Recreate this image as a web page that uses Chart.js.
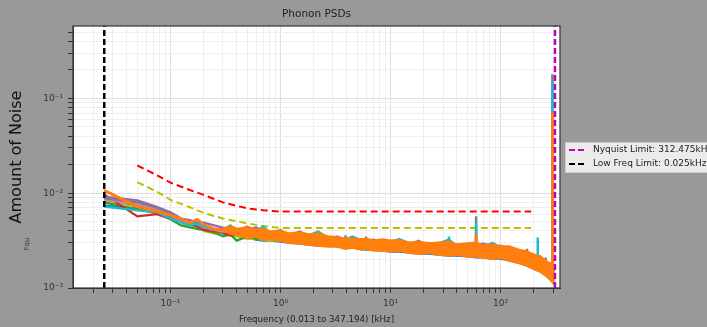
<!DOCTYPE html>
<html><head><meta charset="utf-8">
<script src="https://cdn.jsdelivr.net/npm/chart.js@4.4.1/dist/chart.umd.min.js"></script>
<style>html,body{margin:0;padding:0;background:#999999;}canvas{display:block;}</style>
</head><body>
<canvas id="c" width="707" height="327"></canvas>
<script>
// ---------- data ----------
const chartTitle = 'Phonon PSDs';
const xTitle = 'Frequency (0.013 to 347.194) [kHz]';
const yTitle = 'Amount of Noise';
const yUnit = 'Fqu';
const xMin = 0.013, xMax = 347.194;
const yMin = 0.001, yMax = 0.58;
const xTickValues = [0.1, 1, 10, 100];
const xTickLabels = ['10\u207B\u00B9', '10\u2070', '10\u00B9', '10\u00B2'];
const yTickValues = [0.001, 0.01, 0.1];
const yTickLabels = ['10\u207B\u00B3', '10\u207B\u00B2', '10\u207B\u00B9'];

const nyquistKHz = 312.475;
const lowFreqKHz = 0.025;
const legendLabels = ['Nyquist Limit: 312.475kHz', 'Low Freq Limit: 0.025kHz'];

const freqs = [0.025,0.05,0.075,0.1,0.125,0.15,0.175,0.2,0.25,0.3,0.35,0.4,0.5,0.6,0.7,0.8,1,1.2,1.5,1.8,2.2,2.7,3.3,3.9,4.5,5.5,6,7,8.5,10,12,15,18,22,27,34,40,50,60,70,85,100,120,145,175,200,230,260,285,300,310];

const orangeHi = [.0107,.0072,.00645,.00585,.0054,.0049,.0053,.0047,.0042,.0042, .00445,.0042,.00435,.0041,.0042,.00394,.0040,.00375,.00385,.00366, .00375,.0035,.0034,.0033,.0033,.00324,.0033,.00316,.00324,.00316, .00316,.0030,.00308,.00294,.0030,.00308,.00287,.00294,.0030,.0028, .00287,.00274,.00274,.00254,.00242,.00225,.00215,.0019,.00181,.00168,.0016];
const orangeLo = [.0107,.0072,.00645,.00585,.0054,.0049,.0053,.0047,.0042,.0041, .00375,.00366,.0034,.0035,.00324,.0033,.00316,.0030,.00294,.00287, .0028,.00274,.00274,.0026,.00267,.00254,.0026,.00248,.00248,.00242, .00248,.00236,.0023,.00236,.00225,.0022,.00225,.00215,.00215,.0021, .00204,.0021,.00195,.00185,.00172,.0016,.00149,.00135,.00123,.00114,.00109];
const cyan = [.0072,.0066,.0063,.0054,.0049,.00457,.0048,.00445,.0042,.0041, .00457,.0041,.0042,.0040,.00445,.00385,.00394,.00366,.00375,.00358, .00394,.0034,.0033,.00324,.0035,.00316,.00324,.00308,.00316,.00308, .0033,.00294,.0030,.00287,.00294,.00324,.0028,.00287,.00294,.00274, .0030,.00267,.00267,.00248,.00236,.0022,.0021,.00185,.00177,.00164,.00156];
const gray = [.0088,.0080,.00705,.0060,.0053,.0049,.0048,.00445,.0042,.0042, .0042,.0040,.00445,.00394,.0040,.00375,.0041,.00358,.00366,.0035, .00358,.0033,.0035,.00316,.00316,.00308,.00316,.00324,.00308,.0030, .0030,.00287,.00294,.0030,.00287,.00294,.00274,.0028,.00287,.00267, .00274,.0028,.0026,.00242,.0023,.00215,.00204,.00181,.00172,.0016,.00153];
const purple = [.0092,.0084,.0072,.0063,.0054,.0052,.0049,.0049,.00457,.00435, .0042,.0040,.0041,.00435,.0040,.00375,.00385,.00358,.00394,.0035, .00358,.0033,.00324,.00316,.00316,.0033,.00316,.0030,.00308,.0030, .0030,.00287,.00316,.0028,.00287,.00294,.00274,.0028,.00287,.00294, .00274,.0026,.0026,.00242,.0023,.00215,.00204,.00181,.00172,.0016,.00153];
const pink = [.0086,.0076,.00675,.00585,.00505,.0048,.0047,.00435,.0041,.00394, .00385,.00385,.00385,.00375,.00375,.00366,.00358,.00358,.0035,.0034, .0034,.0033,.0033,.00324,.00316,.00316,.00316,.00308,.0030,.00294, .00294,.00287,.00287,.0028,.0028,.00274,.00274,.00267,.00267,.00267, .0026,.0026,.00254,.00242,.0023,.00215,.002,.00181,.00164,.00153,.00142];
const brown = [.0090,.0074,.0066,.00555,.00505,.0047,.00457,.00445,.0041,.00394, .00385,.00375,.00366,.00366,.00358,.00358,.0035,.0034,.0034,.0033, .0033,.00324,.00316,.00316,.00308,.00308,.0030,.00294,.00294,.00287, .00287,.0028,.0028,.00274,.00274,.00267,.00267,.0026,.0026,.00254, .00254,.00248,.00242,.0023,.0022,.00204,.0019,.00172,.00156,.00145,.00135];
const red = [.0097,.0057,.0060,.0054,.0052,.0047,.00445,.0041,.0040,.00385, .00358,.00375,.00366,.00375,.00358,.0035,.0035,.0034,.0033,.0033, .00324,.00316,.00316,.00308,.00308,.0030,.0030,.00294,.00287,.00287, .0028,.00274,.00274,.00267,.00267,.0026,.0026,.00254,.00254,.00248, .00248,.00242,.00236,.00225,.00215,.002,.00185,.00168,.00153,.00142,.00132];
const green = [.0080,.00675,.00615,.0053,.00457,.00435,.0042,.0041,.00385,.0035, .00366,.00316,.0035,.0033,.0034,.0033,.00324,.00316,.00308,.00308, .0030,.0030,.00294,.00287,.00287,.0028,.00274,.00274,.00267,.00267, .0026,.00254,.00254,.00248,.00248,.00242,.00242,.00236,.00236,.0023, .0023,.00225,.0022,.0021,.002,.00185,.00172,.00156,.00142,.00132,.00123];
const olive = [.0084,.0072,.0066,.0057,.0049,.00445,.0047,.0040,.00375,.00385, .00366,.0035,.0033,.0033,.00324,.00316,.00316,.00308,.0030,.00294, .00294,.00287,.0028,.0028,.00274,.00267,.00267,.0026,.00254,.00254, .00248,.00242,.00242,.00236,.00236,.0023,.0023,.00225,.00225,.0022, .0022,.00215,.0021,.002,.0019,.00177,.00164,.00149,.00135,.00126,.00117];
const blue = [.0074,.0069,.0063,.0057,.00505,.0047,.00445,.0042,.0040,.00375, .00375,.00358,.0034,.00324,.00316,.00316,.00308,.0030,.00294,.00287, .0028,.0028,.00274,.00267,.00267,.0026,.00254,.00254,.00248,.00242, .00242,.00236,.0023,.0023,.00225,.0022,.0022,.00215,.0021,.0021, .00204,.00204,.00195,.00185,.00172,.0016,.00149,.00135,.00123,.00114,.00109];

// narrow spectral lines: frequency, peak, level of the band underneath
const grayLineF = [3.9, 4.5, 6.0, 60, 174, 257, 296];
const grayLineTop = [.0036, .0035, .0035, .0057, .0026, .0021, .18];
const grayLineBase = [.0030, .0030, .0029, .0025, .0021, .0017, .0013];
const cyanLineF = [34, 60, 218, 297];
const cyanLineTop = [.0035, .0049, .0034, .15];
const cyanLineBase = [.0025, .0025, .0019, .0013];
const orangeLineF = [60, 298];
const orangeLineTop = [.0037, .071];
const orangeLineBase = [.0025, .0012];

// threshold curves
const thrFreqs = [0.05, 0.075, 0.1, 0.15, 0.2, 0.3, 0.5, 0.7, 1, 190];
const thrRed = [.0196, .0155, .0129, .0108, .0096, .0080, .0069, .0066, .0064, .0064];
const thrYellow = [.01305, .0104, .0085, .0071, .0062, .0054, .0048, .0045, .0043, .0043];

// ---------- build ----------
const pts = (xs, ys) => xs.map((x, i) => ({x, y: ys[i]}));
const lines = (fs, tops, bases) => fs.flatMap((f, i) => [{x: f, y: bases[i]}, {x: f, y: tops[i]}, {x: f, y: null}]);
const series = (data, color, w) => ({data, borderColor: color, backgroundColor: color, borderWidth: w || 2.2, pointRadius: 0, tension: 0, fill: false, spanGaps: false});

const C = {blue:'#1f77b4', orange:'#ff7f0e', green:'#2ca02c', red:'#d62728', purple:'#9467bd', brown:'#8c564b', pink:'#e377c2', gray:'#7f7f7f', olive:'#bcbd22', cyan:'#17becf'};

const datasets = [
  Object.assign(series(pts([nyquistKHz, nyquistKHz], [yMin, yMax]), '#bf00bf', 2.5), {borderDash: [6, 3]}),
  Object.assign(series(pts([lowFreqKHz, lowFreqKHz], [yMin, yMax]), '#000000', 2.5), {borderDash: [6, 3]}),
  series(lines(orangeLineF, orangeLineTop, orangeLineBase), C.orange, 3),
  series(pts(freqs, orangeHi), C.orange, 2.5),
  Object.assign(series(pts(freqs, orangeLo), C.orange, 2.5), {fill: '-1', backgroundColor: C.orange}),
  series(lines(cyanLineF, cyanLineTop, cyanLineBase), C.cyan, 2.5),
  series(lines(grayLineF, grayLineTop, grayLineBase), C.gray, 2.5),
  series(pts(freqs, cyan), C.cyan),
  series(pts(freqs, gray), C.gray),
  series(pts(freqs, purple), C.purple),
  series(pts(freqs, pink), C.pink),
  series(pts(freqs, brown), C.brown),
  series(pts(freqs, red), C.red),
  series(pts(freqs, green), C.green),
  series(pts(freqs, olive), C.olive),
  series(pts(freqs, blue), C.blue),
  Object.assign(series(pts(thrFreqs, thrRed), '#ff0000', 2), {borderDash: [7, 4]}),
  Object.assign(series(pts(thrFreqs, thrYellow), '#bfbf00', 2), {borderDash: [7, 4]})
];

function isDecade(v) { const l = Math.log10(v); return Math.abs(l - Math.round(l)) < 1e-6; }
function logTicks(min, max) {
  const t = [];
  for (let e = -4; e <= 3; e++) for (let k = 1; k <= 9; k++) {
    const v = +(k * Math.pow(10, e)).toPrecision(6);
    if (v > min * 1.0001 && v < max * 0.9999) t.push({value: v});
  }
  return t;
}
function labelFor(values, labels) {
  return v => { const i = values.findIndex(t => Math.abs(t - v) / t < 1e-6); return i >= 0 ? labels[i] : ''; };
}
const gridColor = ctx => (ctx.tick && isDecade(ctx.tick.value)) ? '#dedede' : '#efefef';

const FONT = '"DejaVu Sans", sans-serif';
Chart.defaults.font.family = FONT;

const decor = {
  id: 'decor',
  beforeDraw(chart) {
    const {ctx, chartArea: a} = chart;
    ctx.save();
    ctx.fillStyle = '#ffffff';
    ctx.fillRect(a.left, a.top, a.right - a.left, a.bottom - a.top);
    ctx.restore();
  },
  afterDraw(chart) {
    const {ctx, chartArea: a} = chart;
    ctx.save();
    ctx.strokeStyle = '#333333'; ctx.lineWidth = 1.2;
    ctx.strokeRect(a.left, a.top, a.right - a.left, a.bottom - a.top);
    // title
    ctx.fillStyle = '#222222';
    ctx.font = '10.5px ' + FONT;
    ctx.textAlign = 'center'; ctx.textBaseline = 'middle';
    ctx.fillText(chartTitle, (a.left + a.right) / 2, 14);
    // small unit label
    ctx.save();
    ctx.translate(27, 244); ctx.rotate(-Math.PI / 2);
    ctx.font = '7px ' + FONT; ctx.fillStyle = '#333333';
    ctx.fillText(yUnit, 0, 0);
    ctx.restore();
    // legend
    const lx = 565, ly = 142;
    ctx.fillStyle = 'rgba(255,255,255,0.8)';
    ctx.fillRect(lx, ly, 150, 30);
    ctx.strokeStyle = '#cccccc'; ctx.lineWidth = 1;
    ctx.strokeRect(lx + 0.5, ly + 0.5, 150, 30);
    const cols = ['#bf00bf', '#000000'];
    legendLabels.forEach((t, i) => {
      const y = ly + 8 + i * 14;
      ctx.strokeStyle = cols[i]; ctx.lineWidth = 2.2; ctx.setLineDash([6, 3]);
      ctx.beginPath(); ctx.moveTo(lx + 4, y); ctx.lineTo(lx + 22, y); ctx.stroke();
      ctx.setLineDash([]);
      ctx.fillStyle = '#222222'; ctx.font = '9px ' + FONT;
      ctx.textAlign = 'left'; ctx.textBaseline = 'middle';
      ctx.fillText(t, lx + 28, y);
    });
    ctx.restore();
  }
};

new Chart(document.getElementById('c'), {
  type: 'line',
  data: {datasets},
  plugins: [decor],
  options: {
    responsive: false, animation: false,
    layout: {padding: {left: 0, right: 147, top: 26, bottom: 0}},
    plugins: {legend: {display: false}, title: {display: false}, tooltip: {enabled: false}},
    scales: {
      x: {
        type: 'logarithmic', position: 'bottom', min: xMin, max: xMax,
        afterFit: s => { s.height = 39; },
        afterBuildTicks: s => { s.ticks = logTicks(xMin, xMax); },
        grid: {color: gridColor, tickColor: '#333333', tickLength: 5, lineWidth: 1},
        border: {display: true, color: '#333333', width: 1},
        ticks: {font: {size: 9}, color: '#333333', padding: 5, maxRotation: 0, autoSkip: false, callback: labelFor(xTickValues, xTickLabels)},
        title: {display: true, text: xTitle, color: '#222222', font: {size: 8.7}, padding: {top: 0, bottom: 2}}
      },
      y: {
        type: 'logarithmic', position: 'left', min: yMin, max: yMax,
        afterFit: s => { s.width = 73; },
        afterBuildTicks: s => { s.ticks = logTicks(yMin * 0.999, yMax); },
        grid: {color: gridColor, tickColor: '#333333', tickLength: 5, lineWidth: 1},
        border: {display: true, color: '#333333', width: 1},
        ticks: {font: {size: 9}, color: '#333333', padding: 5, autoSkip: false, callback: labelFor(yTickValues, yTickLabels)},
        title: {display: true, text: yTitle, color: '#111111', font: {size: 16}, padding: {top: 7.4, bottom: 0}}
      }
    }
  }
});
</script>
</body></html>
